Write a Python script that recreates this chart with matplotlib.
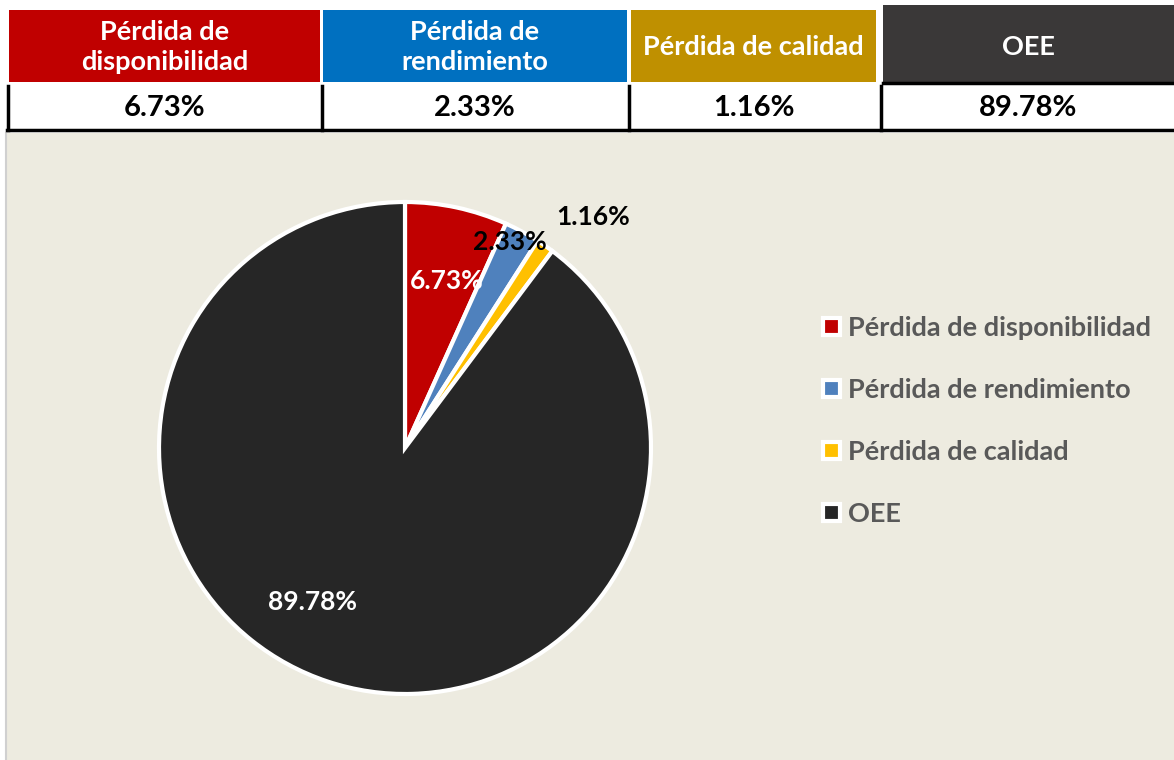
import matplotlib.pyplot as plt
from matplotlib.patches import Rectangle
import numpy as np

# data
categories = ['Pérdida de disponibilidad', 'Pérdida de rendimiento', 'Pérdida de calidad', 'OEE']
header_labels = ['Pérdida de\ndisponibilidad', 'Pérdida de\nrendimiento', 'Pérdida de calidad', 'OEE']
values = [6.73, 2.33, 1.16, 89.78]

pie_colors = ['#C00000', '#4F81BD', '#FFC000', '#262626']
head_colors = ['#C00000', '#0070C0', '#BF9000', '#3A3838']
label_colors = ['white', 'black', 'black', 'white']
label_r = [0.70, 0.94, 1.21, 0.73]
label_shift = [-2.0, 1.5, -4.5, -12.6]

W, H = 1174, 760
plt.rcParams['font.family'] = ['Lato', 'DejaVu Sans']
fig = plt.figure(figsize=(W / 100, H / 100), dpi=100)
fig.patch.set_facecolor('white')

# overlay in pixel coords
bg = fig.add_axes([0, 0, 1, 1])
bg.set_xlim(0, W)
bg.set_ylim(H, 0)
bg.axis('off')

# chart area
bg.add_patch(Rectangle((6, 133), W - 6, H - 133, facecolor='#EDEBE0', edgecolor='none'))
bg.plot([6, 6], [133, H], color='#D0D0D0', lw=1.5)

# header table
cells = [(9, 320), (323, 627), (631, 876), (883, W)]
for i, (x0, x1) in enumerate(cells):
    top = 5 if i == 3 else 10
    bg.add_patch(Rectangle((x0, top), x1 - x0, 82 - top, facecolor=head_colors[i], edgecolor='none'))
    bg.text((x0 + x1) / 2, 47, header_labels[i], color='white', fontsize=19.5, fontweight='bold',
            ha='center', va='center', linespacing=1.3)
    bg.text((x0 + x1) / 2, 108, f'{values[i]:.2f}%', color='black', fontsize=21, fontweight='bold',
            ha='center', va='center')
bg.plot([883, W], [83, 83], color='black', lw=2.5)
bg.plot([7, W], [130, 130], color='black', lw=2.5)
for x in [8, 322, 629, 881]:
    bg.plot([x, x], [86, 130], color='black', lw=2.5)

# pie
cx, cy, r = 405, 448, 246
ax = fig.add_axes([(cx - r) / W, 1 - (cy + r) / H, 2 * r / W, 2 * r / H])
wedges, _ = ax.pie(values, colors=pie_colors, startangle=90, counterclock=False,
                   wedgeprops=dict(edgecolor='white', linewidth=3))
ax.set_xlim(-1, 1)
ax.set_ylim(-1, 1)
ax.set_aspect('equal')
ax.axis('off')

for i, w in enumerate(wedges):
    a = np.deg2rad((w.theta1 + w.theta2) / 2 + label_shift[i])
    ax.text(label_r[i] * np.cos(a), label_r[i] * np.sin(a), f'{values[i]:.2f}%',
            color=label_colors[i], fontsize=19, fontweight='bold', ha='center', va='center')

leg = fig.legend(wedges, categories, loc='upper left', bbox_to_anchor=(799 / W, 1 - 292 / H),
                 frameon=False, fontsize=19.5, handlelength=0.6, handleheight=0.6,
                 handletextpad=0.3, labelspacing=1.4)
for t in leg.get_texts():
    t.set_color('#595959')
    t.set_fontweight('bold')

fig.savefig('out.png', dpi=100)
